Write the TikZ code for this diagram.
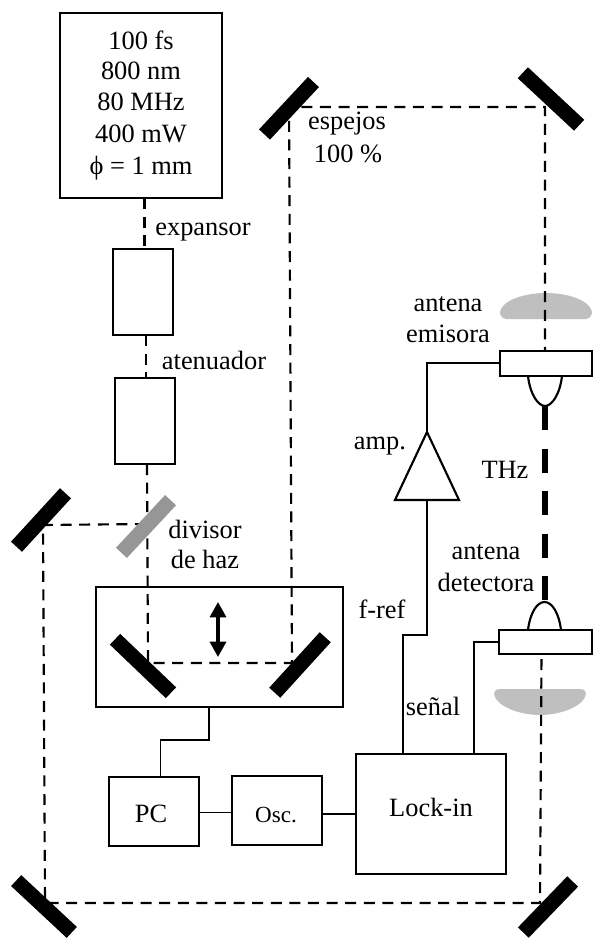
\documentclass[tikz,border=0pt]{standalone}
\usepackage{fontspec}
\setmainfont{Liberation Serif}
\usetikzlibrary{arrows.meta}
\tikzset{
  px/.style={x=0.75pt,y=-0.75pt},
  boxn/.style 2 args={draw=black,line width=1.8pt,inner sep=0pt,outer sep=0pt,
    minimum width=#1*0.75pt,minimum height=#2*0.75pt,align=center,anchor=center},
  mirrorn/.style 2 args={fill=black,inner sep=0pt,outer sep=0pt,rotate=#1,
    minimum width=#2*0.75pt,minimum height=11.2pt},
  splittern/.style 2 args={mirrorn={#1}{#2},fill=splitgray},
  txt/.style={inner sep=0pt,outer sep=0pt,anchor=base,align=center},
  wire/.style={draw=black,line width=1.4pt},
  beam/.style={draw=black,line width=1.6pt,dash pattern=on 8.25pt off 5.7pt},
  thzbeam/.style={draw=black,line width=4.1pt,dash pattern=on 18pt off 13.9pt},
  outline/.style={draw=black,line width=1.6pt,line join=miter},
  every node/.style={font=\fontsize{19.8}{23.8}\selectfont},
}
\definecolor{splitgray}{HTML}{969696}
\definecolor{lensgray}{HTML}{BFBFBF}
\begin{document}
\begin{tikzpicture}[px]
\path[fill=white,use as bounding box] (0,0) rectangle (593,938);
% named points
\coordinate (bTL) at (289,107);
\coordinate (bTR) at (545,107);
\coordinate (bA) at (147,464);
\coordinate (bB) at (148,663);
\coordinate (bC) at (292,663);
\coordinate (bS) at (146,524);
\coordinate (bL) at (43,525);
\coordinate (bBL) at (45,903);
\coordinate (bBR) at (540,903);
\coordinate (ampApex) at (427,432);
\coordinate (ampL) at (395,500);
\coordinate (ampR) at (459,500);
\coordinate (ampIn) at (427,500);
\coordinate (w1) at (427,635);
\coordinate (w2) at (403,635);
\coordinate (w3) at (427,363);
\coordinate (w4) at (474,642);
\coordinate (w5) at (209,740);
\coordinate (w6) at (160.5,740);
\coordinate (w7) at (322,814);
\coordinate (w8) at (199,812.5);
% gray lenses
\fill[lensgray] (506,319) .. controls (501,318) and (500,314) .. (500,312)
  .. controls (502,300) and (525,293) .. (546,293)
  .. controls (567,293) and (590,300) .. (592,312)
  .. controls (592,314) and (591,318) .. (586,319) -- cycle;
\fill[lensgray] (500,689) -- (580,689) .. controls (585,689) and (586,692) .. (586,694)
  .. controls (584,706) and (561,715) .. (540,715)
  .. controls (519,715) and (496,706) .. (494,694)
  .. controls (494,692) and (495,689) .. (500,689) -- cycle;
% boxes
\node[boxn={162}{185}] (laser) at (141,105.5) {\raisebox{-1.5pt}{100 fs}\\800 nm\\80 MHz\\400 mW\\ϕ = 1 mm};
\node[boxn={60}{86}] (expansorbox) at (143,292) {};
\node[boxn={60}{86}] (atenbox) at (145,421) {};
\node[boxn={247}{120}] (stage) at (219.5,647) {};
\node[boxn={90}{69}] (pc) at (154,811.5) {\rule{0pt}{16pt}PC\hspace*{4.5pt}};
\node[boxn={90}{69},font=\fontsize{17.3}{20}\selectfont] (osc) at (277,810.5) {\rule{0pt}{17.8pt}Osc.\hspace*{1.5pt}};
\node[boxn={150}{120}] (lock) at (431,814) {\raisebox{10pt}{Lock-in}};
\node[boxn={92}{25}] (emit) at (546,363.5) {};
\node[boxn={93}{24}] (detect) at (545.5,642) {};
% beams
\draw[beam] (laser.south -| 144.5,0) -- (expansorbox.north -| 144.5,0);
\draw[beam] (expansorbox.south -| 146,0) -- (atenbox.north -| 146,0);
\draw[beam] (bA) -- (bB) -- (bC) -- (bTL) -- (bTR) -- (emit.north -| bTR);
\draw[beam] (bS) -- (bL) -- (bBL) -- (bBR) -- (detect.south -| 541.5,0);
\draw[thzbeam] (545,406) -- (545,600);
% mirrors
\node[mirrorn={47}{71.8}] (m1) at (289,108.25) {};
\node[mirrorn={-43}{77}] (m2) at (551,99) {};
\node[mirrorn={47.5}{72.5}] (m3) at (41,520) {};
\node[splittern={47}{72}] (split) at (146,526.5) {};
\node[mirrorn={-43.7}{77.4}] (m4) at (143,666) {};
\node[mirrorn={47.7}{75}] (m5) at (300,665) {};
\node[mirrorn={-43}{76}] (m6) at (44,906.5) {};
\node[mirrorn={46}{71}] (m7) at (548,907) {};
% antenna lobes
\draw[outline] (528,376) .. controls (530,394) and (538,406) .. (545,406)
  .. controls (552,406) and (560,394) .. (562,376);
\draw[outline] (528,630) .. controls (530,613) and (537,602) .. (544.5,602)
  .. controls (552,602) and (559,613) .. (561,630);
% amplifier
\draw[outline] (ampApex) -- (ampR) -- (ampL) -- cycle;
% wires
\draw[wire] (lock.north -| w2) -- (w2) -- (w1) -- (ampIn);
\draw[wire] (ampApex) -- (w3) -- (w3 -| emit.west);
\draw[wire] (lock.north -| w4) -- (w4) -- (w4 -| detect.west);
\draw[wire] (stage.south -| w5) -- (w5) -- (w6) -- (pc.north -| w6);
\draw[wire] (w8) -- (w8 -| osc.west);
\draw[wire] (w7) -- (w7 -| lock.west);
% double arrow
\coordinate (arrT) at (218,602);
\coordinate (arrB) at (218,657);
\draw[line width=2.5pt,{Triangle[length=11.5pt,width=12pt]}-{Triangle[length=11.5pt,width=12pt]}] (arrT) -- (arrB);
% labels
\node[txt] (lexp) at (203,235) {expansor};
\node[txt] (lat) at (214,369) {atenuador};
\node[txt] (lesp1) at (347,130) {espejos};
\node[txt] (lesp2) at (348,162) {100 \%};
\node[txt] (lem1) at (448,311) {antena};
\node[txt] (lem2) at (448,342) {emisora};
\node[txt] (lamp) at (380,449) {amp.};
\node[txt] (lthz) at (505,478) {THz};
\node[txt] (ldet1) at (486,559) {antena};
\node[txt] (ldet2) at (486,591) {detectora};
\node[txt] (lref) at (382,618) {f-ref};
\node[txt] (lsen) at (433,715) {señal};
\node[txt] (ldiv1) at (205,538) {divisor};
\node[txt] (ldiv2) at (205,568) {de haz};
\end{tikzpicture}
\end{document}
